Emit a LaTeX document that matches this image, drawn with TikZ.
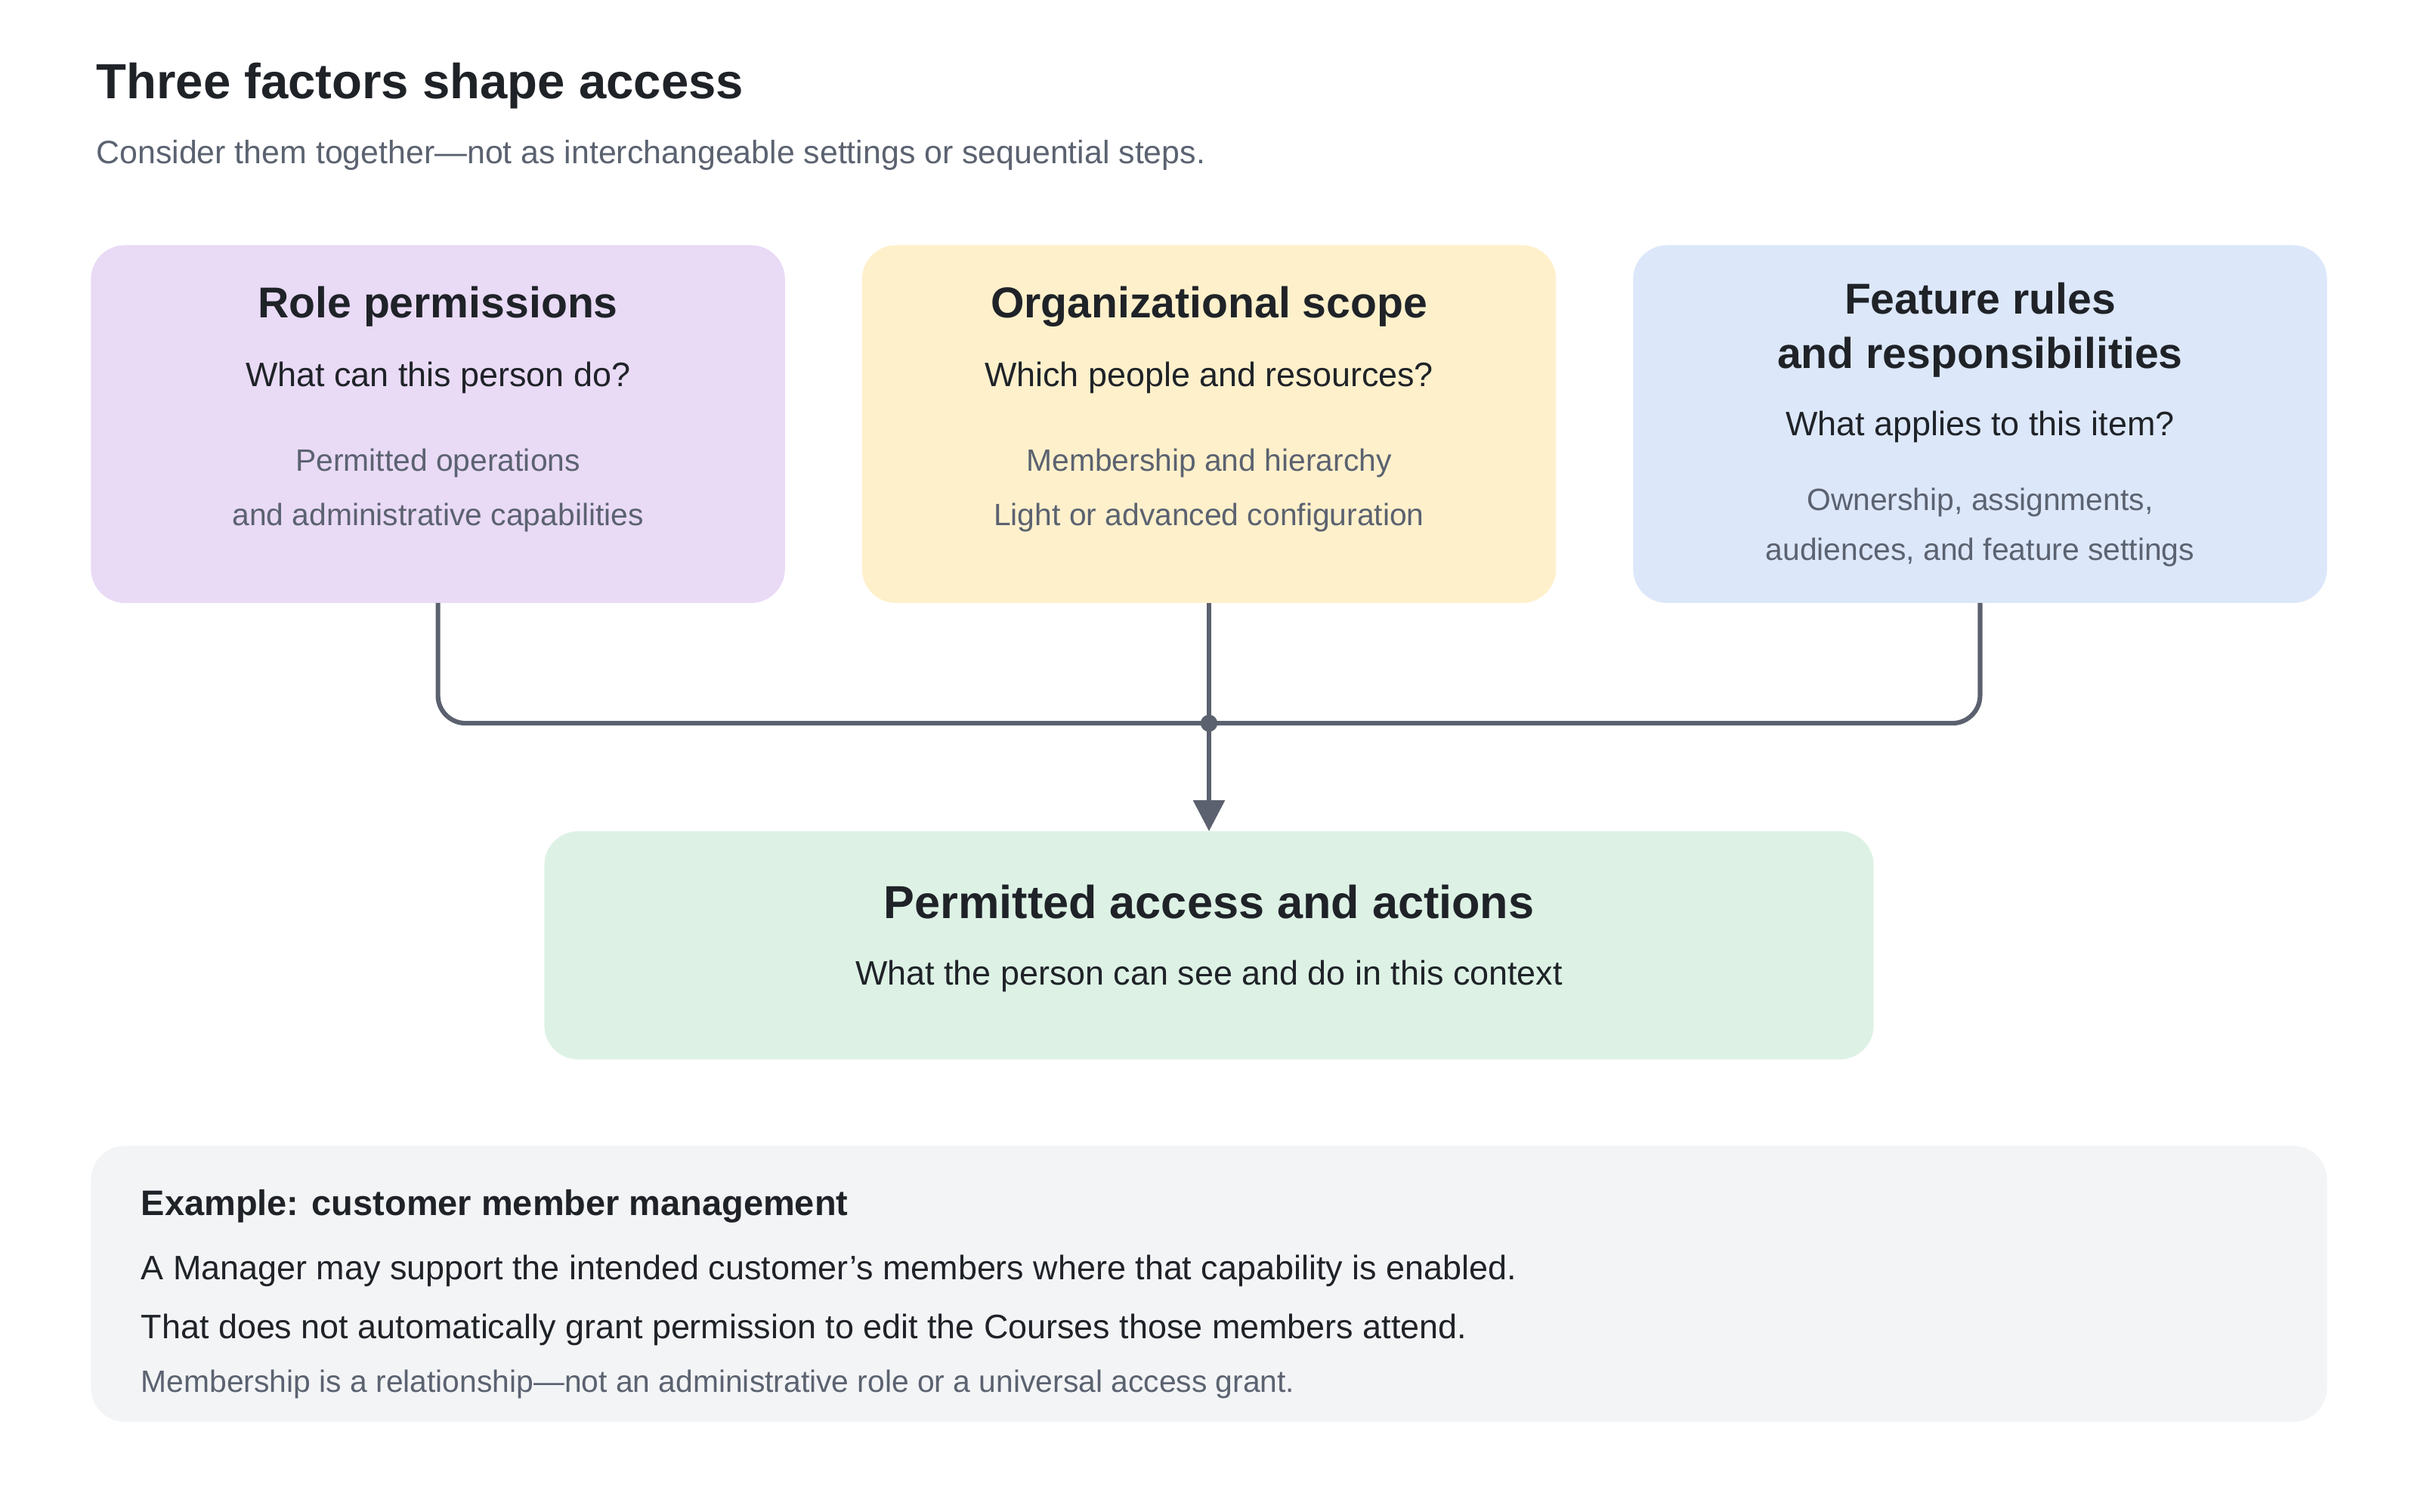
\documentclass[tikz,border=0pt]{standalone}
\usepackage{fontspec}
\setmainfont{Liberation Sans}
\usetikzlibrary{arrows.meta}
\definecolor{ink}{HTML}{1F2328}
\definecolor{sub}{HTML}{5B6270}
\definecolor{line}{HTML}{5B616E}
\definecolor{purp}{HTML}{E9DAF6}
\definecolor{yel}{HTML}{FEF0CB}
\definecolor{blu}{HTML}{DCE7FA}
\definecolor{grn}{HTML}{DDF2E5}
\definecolor{gry}{HTML}{F3F4F6}
\begin{document}
\begin{tikzpicture}[x=1pt,y=-1pt,
  box/.style={rounded corners=22pt,draw=none},
  ttl/.style={text=ink,font=\fontsize{28}{32}\selectfont\bfseries,align=center},
  q/.style={text=ink,font=\fontsize{22}{26}\selectfont,align=center},
  d/.style={text=sub,font=\fontsize{20}{35}\selectfont,align=center},
  conn/.style={draw=line,line width=3pt,rounded corners=18pt}]
\useasboundingbox (0,0) rectangle (1568,980);
\node[anchor=base west,text=ink,font=\fontsize{32}{36}\selectfont\bfseries] (title) at (59,64) {Three factors shape access};
\node[anchor=base west,text=sub,font=\fontsize{21}{25}\selectfont] (subt) at (59,106) {Consider them together—not as interchangeable settings or sequential steps.};
\fill[purp,box] (59,159) rectangle (509,391);
\fill[yel,box] (559,159) rectangle (1009,391);
\fill[blu,box] (1059,159) rectangle (1509,391);
\node[ttl] (t1) at (284,199) {Role permissions};
\node[q] (q1) at (284,245) {What can this person do?};
\node[d] (d1) at (284,318) {Permitted operations\\and administrative capabilities};
\node[ttl] (t2) at (784,199) {Organizational scope};
\node[q] (q2) at (784,245) {Which people and resources?};
\node[d] (d2) at (784,318) {Membership and hierarchy\\Light or advanced configuration};
\node[ttl,font=\fontsize{28}{35}\selectfont\bfseries] (t3) at (1284,214) {Feature rules\\and responsibilities};
\node[q] (q3) at (1284,277) {What applies to this item?};
\node[d,font=\fontsize{20}{32}\selectfont] (d3) at (1284,342) {Ownership, assignments,\\audiences, and feature settings};
\coordinate (a1) at (284,391);
\coordinate (a2) at (784,391);
\coordinate (a3) at (1284,391);
\coordinate (j) at (784,469);
\coordinate (e) at (784,539);
\draw[conn] (a1) -- (284,469) -- (j);
\draw[conn] (a3) -- (1284,469) -- (j);
\draw[conn,-{Triangle[length=20pt,width=20pt]}] (a2) -- (e);
\fill[line] (j) circle (5.5pt);
\fill[grn,box] (353,539) rectangle (1215,687);
\node[ttl,font=\fontsize{30}{34}\selectfont\bfseries] (t4) at (784,585) {Permitted access and actions};
\node[q] (q4) at (784,633) {What the person can see and do in this context};
\fill[gry,box] (59,743) rectangle (1509,922);
\node[anchor=base west,text=ink,font=\fontsize{23}{27}\selectfont\bfseries] (ex) at (88,788) {Example: customer member management};
\node[anchor=base west,text=ink,font=\fontsize{22}{26}\selectfont] (l1) at (88,830) {A Manager may support the intended customer’s members where that capability is enabled.};
\node[anchor=base west,text=ink,font=\fontsize{22}{26}\selectfont] (l2) at (88,868) {That does not automatically grant permission to edit the Courses those members attend.};
\node[anchor=base west,text=sub,font=\fontsize{20}{24}\selectfont] (l3) at (88,903) {Membership is a relationship—not an administrative role or a universal access grant.};
\end{tikzpicture}
\end{document}
